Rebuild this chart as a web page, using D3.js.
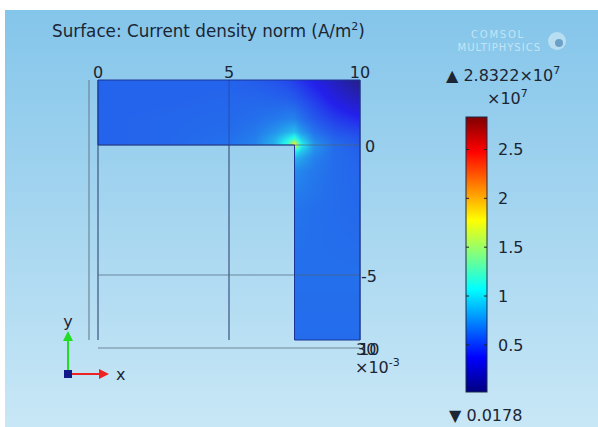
<!DOCTYPE html>
<html><head><meta charset="utf-8">
<script src="https://cdn.jsdelivr.net/npm/d3@7"></script>
<style>html,body{margin:0;padding:0;background:#fff;}svg{display:block;}</style>
</head><body>
<script>
// ---- data ----
const xTicks = [0, 5, 10];
const yTickVals = [0, -5];
const yTickLabels = ["0", "-5"];
const colorTicks = [0.5, 1, 1.5, 2, 2.5];
const colorMin = 0.0178, colorMax = 2.8322; // ×10^7 A/m²
// node coordinates (mm) of the sampled surface field
const xNodes = [0, 2.5, 5, 6, 6.75, 7.25, 7.5, 7.75, 8.25, 9, 10];
const yNodes = [2.5, 1.75, 1, 0.5, 0.25, 0, -0.25, -0.5, -1, -2.5, -5, -7.5];
// field values (×10^7 A/m²); null = outside the conductor
const fieldRows = [
  [0.59,0.59,0.59,0.57,0.54,0.50,0.47,0.43,0.35,0.22,0.03],
  [0.59,0.59,0.60,0.60,0.59,0.58,0.56,0.53,0.46,0.34,0.20],
  [0.59,0.60,0.61,0.63,0.66,0.69,0.69,0.64,0.56,0.47,0.39],
  [0.59,0.60,0.62,0.66,0.75,0.84,0.88,0.77,0.64,0.55,0.50],
  [0.59,0.60,0.63,0.68,0.82,1.02,1.15,0.92,0.70,0.59,0.54],
  [0.59,0.60,0.64,0.70,0.86,1.18,1.80,1.08,0.75,0.62,0.56],
  [null,null,null,null,null,null,1.08,0.92,0.73,0.62,0.58],
  [null,null,null,null,null,null,0.86,0.80,0.69,0.62,0.59],
  [null,null,null,null,null,null,0.72,0.70,0.66,0.62,0.60],
  [null,null,null,null,null,null,0.64,0.64,0.63,0.62,0.61],
  [null,null,null,null,null,null,0.63,0.63,0.63,0.63,0.63],
  [null,null,null,null,null,null,0.62,0.62,0.62,0.62,0.62]
];
// L-shaped conductor outline (mm)
const shapePts = [[0,2.5],[10,2.5],[10,-7.5],[7.5,-7.5],[7.5,0],[0,0]];

// ---- drawing ----
const W = 598, H = 427;
const svg = d3.select("body").append("svg").attr("width", W).attr("height", H);
const defs = svg.append("defs");
const bg = defs.append("linearGradient").attr("id","bg").attr("x1",0).attr("y1",0).attr("x2",0).attr("y2",1);
bg.append("stop").attr("offset",0).attr("stop-color","#84c5ea");
bg.append("stop").attr("offset",1).attr("stop-color","#c8e7f6");
svg.append("rect").attr("x",5).attr("y",10).attr("width",W-5).attr("height",H-10).attr("fill","url(#bg)");

const x = d3.scaleLinear().domain([0,10]).range([98,360]);
const y = d3.scaleLinear().domain([2.5,-7.5]).range([80,340]);

function jet(t){
  const c = v => Math.max(0, Math.min(1, v));
  return [c(1.5-Math.abs(4*t-3)), c(1.5-Math.abs(4*t-2)), c(1.5-Math.abs(4*t-1))];
}
const tScale = d3.scaleLinear().domain([colorMin, colorMax]).range([0,1]).clamp(true);
const color = v => { const j = jet(tScale(v)); return d3.rgb(j[0]*255, j[1]*255, j[2]*255); };

// field raster
const x0 = Math.round(x(0)), x1 = Math.round(x(10)), y0 = Math.round(y(2.5)), y1 = Math.round(y(-7.5));
const cw = x1-x0, ch = y1-y0;
const canvas = document.createElement("canvas");
canvas.width = cw; canvas.height = ch;
const ctx = canvas.getContext("2d");
const img = ctx.createImageData(cw, ch);
const ySorted = yNodes.map(v=>-v);
function fieldAt(mx, my){
  let i = Math.min(xNodes.length-2, Math.max(0, d3.bisectRight(xNodes, mx)-1));
  let j = Math.min(yNodes.length-2, Math.max(0, d3.bisectRight(ySorted, -my)-1));
  const fx = (mx - xNodes[i])/(xNodes[i+1]-xNodes[i]);
  const fy = (yNodes[j]-my)/(yNodes[j]-yNodes[j+1]);
  const g = (a,b)=>{ const v = fieldRows[a][b]; return v==null ? 0.6 : v; };
  const top = g(j,i)*(1-fx)+g(j,i+1)*fx;
  const bot = g(j+1,i)*(1-fx)+g(j+1,i+1)*fx;
  return top*(1-fy)+bot*fy;
}
for (let py=0; py<ch; py++){
  for (let px=0; px<cw; px++){
    const mx = x.invert(x0+px+0.5), my = y.invert(y0+py+0.5);
    const inside = (my >= 0) || (mx >= 7.5);
    const k = (py*cw+px)*4;
    if (!inside){ img.data[k+3]=0; continue; }
    const c = color(fieldAt(mx,my));
    img.data[k]   = 0.84*c.r + 36;
    img.data[k+1] = 0.84*c.g + 32;
    img.data[k+2] = 0.84*c.b + 22;
    img.data[k+3] = 255;
  }
}
ctx.putImageData(img,0,0);

// grid lines (behind + over surface)
const grid = svg.append("g").attr("stroke","#6f8698").attr("stroke-width",1.2).attr("fill","none");
xTicks.forEach(v=>grid.append("line").attr("x1",x(v)).attr("x2",x(v)).attr("y1",y(2.5)).attr("y2",y(-7.5)));
svg.append("image").attr("x",x0).attr("y",y0).attr("width",cw).attr("height",ch).attr("href",canvas.toDataURL());
const grid2 = svg.append("g").attr("stroke","#1d3a8a").attr("stroke-opacity",0.45).attr("stroke-width",1.2).attr("fill","none");
xTicks.forEach(v=>grid2.append("line").attr("x1",x(v)).attr("x2",x(v)).attr("y1",y(2.5)).attr("y2",y(-7.5)));
const grid3 = svg.append("g").attr("stroke","#4d6478").attr("stroke-opacity",0.7).attr("stroke-width",1.2).attr("fill","none");
yTickVals.forEach(v=>grid3.append("line").attr("x1",x(0)).attr("x2",x(10)).attr("y1",y(v)).attr("y2",y(v)));
// outer frame lines
svg.append("line").attr("x1",89).attr("x2",89).attr("y1",y(2.5)).attr("y2",y(-7.5)).attr("stroke","#6f8698").attr("stroke-width",1.2);
svg.append("line").attr("x1",x(0)).attr("x2",x(10)).attr("y1",348).attr("y2",348).attr("stroke","#6f8698").attr("stroke-width",1.2);
// conductor outline
svg.append("path").attr("d", d3.line().x(d=>x(d[0])).y(d=>y(d[1]))(shapePts)+"Z")
  .attr("fill","none").attr("stroke","#1a3596").attr("stroke-width",1);

const font = "DejaVu Sans, sans-serif";
const txt = "#1b2533";
const FS = 16;
// top x labels
svg.append("g").selectAll("text").data(xTicks).join("text")
  .attr("x",d=>x(d)).attr("y",78).attr("text-anchor","middle")
  .attr("font-family",font).attr("font-size",FS).attr("fill",txt).text(d=>d);
// right y labels
svg.append("g").selectAll("text").data(yTickVals).join("text")
  .attr("x",(d,i)=> i==0 ? 365 : 361).attr("y",d=>y(d)+7)
  .attr("font-family",font).attr("font-size",FS).attr("fill",txt).text((d,i)=>yTickLabels[i]);
svg.append("text").attr("x",356).attr("y",355).attr("font-family",font).attr("font-size",FS).attr("fill",txt).text("30");
svg.append("text").attr("x",359).attr("y",355).attr("font-family",font).attr("font-size",FS).attr("fill",txt).text("10");
const ex = svg.append("text").attr("x",355).attr("y",373).attr("font-family",font).attr("font-size",FS).attr("fill",txt);
ex.append("tspan").text("×10");
ex.append("tspan").attr("dy",-7).attr("font-size",11).text("-3");

// title
const title = svg.append("text").attr("x",52).attr("y",37).attr("font-family",font).attr("font-size",16.8).attr("fill",txt);
title.append("tspan").text("Surface: Current density norm (A/m");
title.append("tspan").attr("dy",-7).attr("font-size",11).text("2");
title.append("tspan").attr("dy",7).text(")");

// logo
svg.append("text").attr("x",525).attr("y",38).attr("text-anchor","end").attr("font-family",font).attr("font-size",10).attr("letter-spacing",1.8).attr("fill","#d4ecf8").attr("fill-opacity",0.8).text("COMSOL");
svg.append("text").attr("x",541).attr("y",51).attr("text-anchor","end").attr("font-family",font).attr("font-size",10).attr("letter-spacing",1).attr("fill","#d4ecf8").attr("fill-opacity",0.8).text("MULTIPHYSICS");
svg.append("circle").attr("cx",557).attr("cy",41).attr("r",9).attr("fill","#c4e3f4").attr("fill-opacity",0.8);
svg.append("circle").attr("cx",559).attr("cy",43).attr("r",4).attr("fill","#4d86b3").attr("fill-opacity",0.7);

// colour bar
const cb = d3.scaleLinear().domain([colorMin, colorMax]).range([392,117]);
const lg = defs.append("linearGradient").attr("id","cbar").attr("x1",0).attr("y1",1).attr("x2",0).attr("y2",0);
d3.range(0,1.0001,0.025).forEach(t=>{ const j = jet(t);
  lg.append("stop").attr("offset",t).attr("stop-color",d3.rgb(j[0]*255,j[1]*255,j[2]*255)); });
svg.append("rect").attr("x",466).attr("y",117).attr("width",21).attr("height",275)
  .attr("fill","url(#cbar)").attr("stroke","#1e2a4a").attr("stroke-width",1);
const cbt = svg.append("g");
colorTicks.forEach(v=>{
  cbt.append("line").attr("x1",466).attr("x2",469).attr("y1",cb(v)).attr("y2",cb(v)).attr("stroke","#222");
  cbt.append("line").attr("x1",484).attr("x2",487).attr("y1",cb(v)).attr("y2",cb(v)).attr("stroke","#222");
  cbt.append("text").attr("x",498).attr("y",cb(v)+6).attr("font-family",font).attr("font-size",FS).attr("fill",txt).text(v);
});
const mx = svg.append("text").attr("x",446).attr("y",81).attr("font-family",font).attr("font-size",FS).attr("fill",txt);
mx.append("tspan").text("▲ 2.8322×10");
mx.append("tspan").attr("dy",-7).attr("font-size",11).text("7");
const sc = svg.append("text").attr("x",487).attr("y",104).attr("font-family",font).attr("font-size",FS).attr("fill",txt);
sc.append("tspan").text("×10");
sc.append("tspan").attr("dy",-7).attr("font-size",11).text("7");
svg.append("text").attr("x",449).attr("y",421).attr("font-family",font).attr("font-size",FS).attr("fill",txt).text("▼ 0.0178");

// axis triad
svg.append("line").attr("x1",68).attr("x2",68).attr("y1",374).attr("y2",338).attr("stroke","#22dd22").attr("stroke-width",2);
svg.append("path").attr("d","M63,341 L68,331 L73,341 Z").attr("fill","#22dd22");
svg.append("line").attr("x1",68).attr("x2",102).attr("y1",374).attr("y2",374).attr("stroke","#ee2222").attr("stroke-width",2);
svg.append("path").attr("d","M99,369 L109,374 L99,379 Z").attr("fill","#ee2222");
svg.append("rect").attr("x",64).attr("y",370).attr("width",8).attr("height",8).attr("fill","#101a88");
svg.append("text").attr("x",68).attr("y",327).attr("text-anchor","middle").attr("font-family",font).attr("font-size",FS).attr("fill",txt).text("y");
svg.append("text").attr("x",116).attr("y",380).attr("font-family",font).attr("font-size",FS).attr("fill",txt).text("x");
</script>
</body></html>
